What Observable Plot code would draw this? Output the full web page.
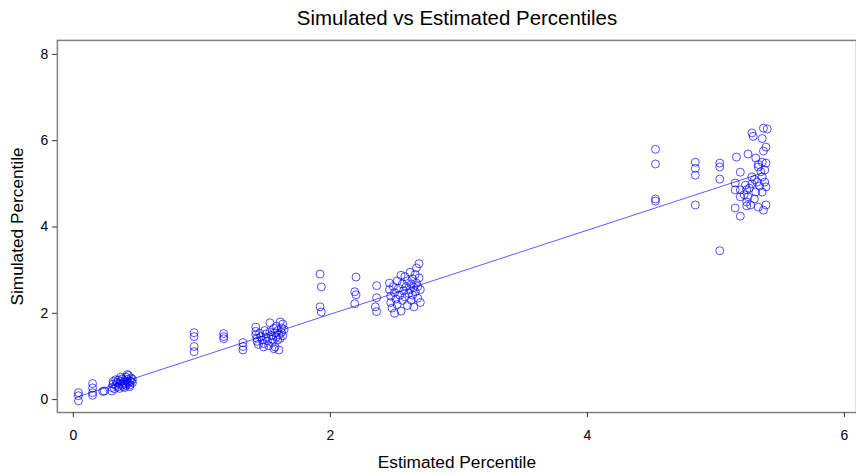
<!DOCTYPE html>
<html>
<head>
<meta charset="utf-8">
<script src="https://cdn.jsdelivr.net/npm/d3@7"></script>
<script src="https://cdn.jsdelivr.net/npm/@observablehq/plot@0.6"></script>
<style>
html, body { margin: 0; padding: 0; background: #fff; overflow: hidden; }
#chart svg { display: block; }
</style>
</head>
<body>
<div id="chart"></div>
<script>
const title = "Simulated vs Estimated Percentiles";
const xLabel = "Estimated Percentile";
const yLabel = "Simulated Percentile";
const xTicks = [0, 2, 4, 6];
const yTicks = [0, 2, 4, 6, 8];

// Estimated (x) and simulated (y) percentiles
const estimated = [
  0.04,0.04,0.04,
  0.15,0.15,0.15,0.15,
  0.23,0.24,
  0.30,0.30,0.31,0.31,0.32,0.33,0.34,0.35,0.35,0.36,0.36,0.37,0.38,0.38,0.39,0.39,0.40,0.40,0.41,0.41,0.42,0.42,0.43,0.43,0.44,0.44,0.45,0.45,0.46,0.46,0.42,0.37,0.33,0.40,0.44,
  0.94,0.94,0.94,0.94,
  1.17,1.17,1.17,
  1.32,1.32,1.32,
  1.42,1.42,1.42,1.43,1.43,1.44,1.45,1.46,1.47,1.48,1.49,1.50,1.50,1.51,1.52,1.53,1.53,1.54,1.55,1.55,1.56,1.57,1.57,1.58,1.58,1.59,1.59,1.60,1.60,1.61,1.61,1.62,1.62,1.63,1.63,1.64,1.56,1.48,
  1.92,1.93,1.92,1.93,
  2.20,2.19,2.20,2.19,
  2.36,2.36,2.35,2.36,
  2.46,2.46,2.47,2.47,2.48,2.49,2.50,2.51,2.52,2.52,2.53,2.54,2.55,2.56,2.56,2.57,2.58,2.58,2.59,2.60,2.60,2.61,2.62,2.62,2.63,2.63,2.64,2.64,2.65,2.65,2.66,2.66,2.67,2.67,2.68,2.68,2.69,2.69,2.70,2.70,2.55,2.50,
  4.53,4.53,4.53,4.53,
  4.84,4.84,4.84,4.84,
  5.03,5.03,5.03,5.03,
  5.37,5.40,5.28,5.29,5.36,5.39,5.37,5.16,5.25,5.31,5.36,5.39,5.33,5.38,5.28,5.19,5.36,5.32,5.38,5.15,5.23,5.28,5.15,5.19,5.24,5.31,5.36,5.39,5.25,5.24,5.27,5.15,5.19,5.24,5.33,5.39,5.37,5.19,5.33,5.35,5.30,5.34,5.26,5.22,5.30
];
const simulated = [
  0.16,0.09,-0.03,
  0.37,0.27,0.16,0.10,
  0.19,0.20,
  0.20,0.28,0.36,0.42,0.25,0.33,0.40,0.30,0.45,0.37,0.26,0.42,0.34,0.48,0.30,0.39,0.44,0.36,0.52,0.33,0.41,0.47,0.38,0.56,0.44,0.34,0.50,0.42,0.47,0.39,0.58,0.52,0.46,0.28,0.30,
  1.55,1.46,1.23,1.11,
  1.53,1.46,1.41,
  1.32,1.23,1.15,
  1.68,1.58,1.50,1.42,1.35,1.28,1.54,1.46,1.38,1.30,1.60,1.52,1.44,1.36,1.25,1.78,1.57,1.48,1.40,1.32,1.65,1.55,1.22,1.45,1.70,1.38,1.60,1.50,1.15,1.42,1.80,1.66,1.56,1.48,1.75,1.62,1.18,1.22,
  2.91,2.61,2.15,2.03,
  2.84,2.50,2.43,2.22,
  2.64,2.36,2.15,2.04,
  2.70,2.55,2.40,2.25,2.12,2.62,2.48,2.33,2.75,2.20,2.58,2.42,2.05,2.68,2.30,2.52,2.85,2.38,2.62,2.18,2.75,2.46,2.95,2.55,2.30,2.68,2.80,2.42,2.60,2.15,2.90,2.50,3.05,2.70,2.35,2.62,3.15,2.82,2.55,2.25,2.88,2.00,
  5.80,5.46,4.65,4.60,
  5.50,5.36,5.20,4.51,
  5.48,5.39,5.11,3.45,
  6.29,6.27,6.18,6.10,6.05,5.85,5.76,5.62,5.69,5.60,5.50,5.48,5.39,5.32,5.16,5.27,5.16,5.04,5.04,5.02,4.97,5.00,4.86,4.86,4.86,4.81,4.81,4.93,4.70,4.58,4.51,4.44,4.25,4.49,4.46,4.51,4.39,4.70,5.45,5.28,5.10,4.95,4.90,4.75,4.65
];

// Fitted line end points
const fitX = [0.04, 5.36];
const fitY = [0.07, 5.25];

const points = estimated.map((x, i) => ({x, y: simulated[i]}));
const fit = fitX.map((x, i) => ({x, y: fitY[i]}));

const chart = Plot.plot({
  width: 858,
  height: 474,
  marginLeft: 57,
  marginRight: 0,
  marginTop: 40,
  marginBottom: 61,
  style: {fontFamily: "'Liberation Sans', Arial, sans-serif", fontSize: "14px", color: "#000", background: "#fff"},
  x: {domain: [-0.124, 6.094]},
  y: {domain: [-0.3, 8.324]},
  marks: [
    Plot.frame({stroke: "#808080", strokeWidth: 1.5}),
    Plot.axisX({ticks: xTicks, tickFormat: "d", tickSize: 5, tickPadding: 13, label: null, stroke: "#333", fontSize: 14}),
    Plot.axisY({ticks: yTicks, tickFormat: "d", tickSize: 5, tickPadding: 4, label: null, stroke: "#333", fontSize: 14}),
    Plot.line(fit, {x: "x", y: "y", stroke: "#0000ff", strokeWidth: 0.8, strokeOpacity: 0.8}),
    Plot.dot(points, {x: "x", y: "y", r: 4, stroke: "#0000ff", strokeWidth: 0.85, strokeOpacity: 0.8, fill: "none"}),
    Plot.text([title], {frameAnchor: "top", dy: -30, fontSize: 20.5, fill: "#000"}),
    Plot.text([xLabel], {frameAnchor: "bottom", dy: 56, fontSize: 17.3, fill: "#000"}),
    Plot.text([yLabel], {frameAnchor: "left", textAnchor: "middle", dx: -40, rotate: -90, fontSize: 17.3, fill: "#000"})
  ]
});
document.getElementById("chart").appendChild(chart);
</script>
</body>
</html>
